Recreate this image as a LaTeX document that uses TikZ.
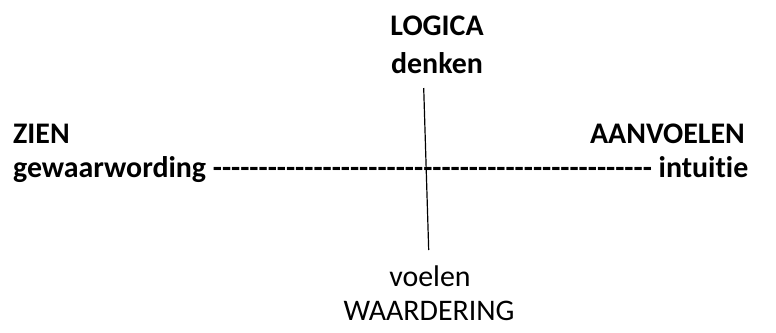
\documentclass[tikz,border=0pt]{standalone}
\usepackage{fontspec}
\setmainfont{Carlito}[Ligatures={NoCommon}]
\usepackage{tikz}
\usetikzlibrary{calc}
\newcommand\bigfont{\fontsize{30}{36}\selectfont}
\newcommand\hyphens{\foreach\i in {1,...,48}{-\kern0pt}}
\tikzstyle{pole}=[inner sep=0pt,font=\bigfont\bfseries]
\tikzstyle{polelight}=[inner sep=0pt,font=\bigfont]
\tikzstyle{axis}=[line width=1.2pt]

\begin{document}
\begin{tikzpicture}[x=1bp,y=-1bp]
	\useasboundingbox (0,0) rectangle (776,332);
	\node[pole,anchor=base] (logica) at (437,35) {LOGICA};
	\node[pole,anchor=base] (denken) at (437,73.5) {denken};
	\node[pole,anchor=base west] (zien) at (13,143) {ZIEN};
	\node[pole,anchor=base east] (aanvoelen) at (745,143) {AANVOELEN};
	\node[pole,anchor=base west] (gewaar) at (13,177) {gewaarwording \hyphens{} intuitie};
	\node[polelight,anchor=base] (voelen) at (430,286) {voelen};
	\node[polelight,anchor=base] (waardering) at (429,320) {WAARDERING};
	\coordinate (axtop) at (423.7,88);
	\coordinate (axbot) at (428.7,250);
	\draw[axis] (axtop) -- (axbot);
\end{tikzpicture}
\end{document}
